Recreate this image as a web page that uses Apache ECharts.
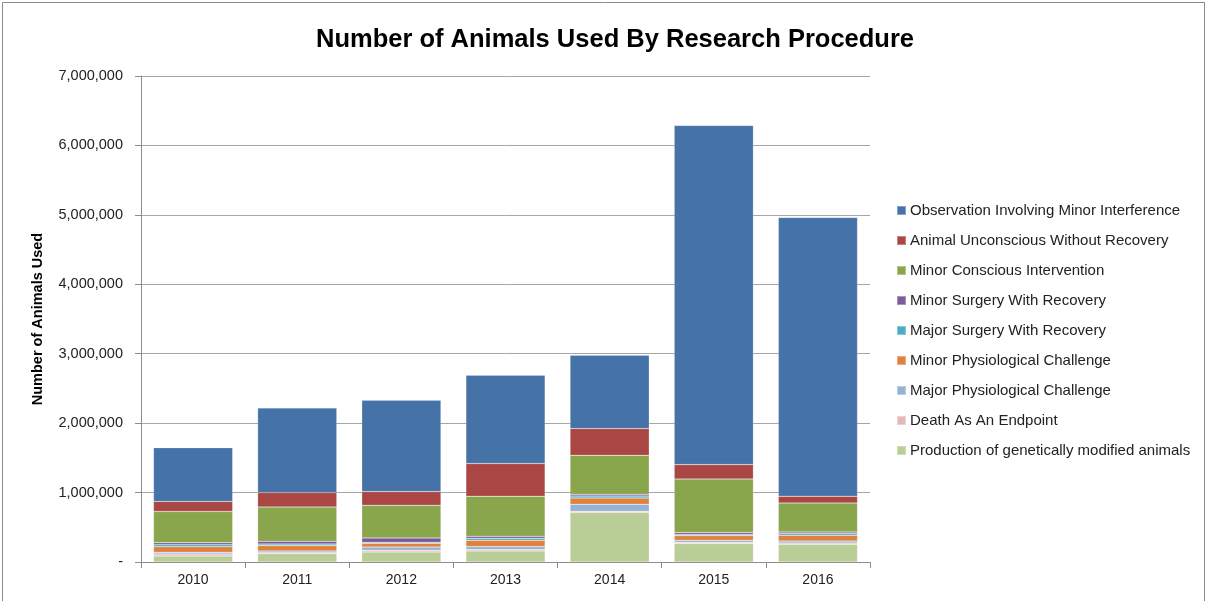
<!DOCTYPE html>
<html>
<head>
<meta charset="utf-8">
<script src="https://cdn.jsdelivr.net/npm/echarts@6/dist/echarts.min.js"></script>
<style>html,body{margin:0;padding:0;background:#fff;}#chart{width:1208px;height:601px;}</style>
</head>
<body>
<div id="chart"></div>
<script>
const years = ['2010','2011','2012','2013','2014','2015','2016'];
const seriesNames = [
  'Production of genetically modified animals',
  'Death As An Endpoint',
  'Major Physiological Challenge',
  'Minor Physiological Challenge',
  'Major Surgery With Recovery',
  'Minor Surgery With Recovery',
  'Minor Conscious Intervention',
  'Animal Unconscious Without Recovery',
  'Observation Involving Minor Interference'
];
const production   = [86000, 121000, 144000, 159000, 711000, 265000, 255000];
const death        = [29000, 14000, 25000, 20000, 19000, 19000, 19000];
const majorPhys    = [25000, 24000, 47000, 43000, 101000, 29000, 29000];
const minorPhys    = [80000, 77000, 53000, 91000, 91000, 67000, 82000];
const majorSurg    = [28000, 24000, 15000, 28000, 29000, 15000, 24000];
const minorSurg    = [29000, 38000, 62000, 29000, 24000, 29000, 23000];
const minorConsc   = [451000, 495000, 471000, 577000, 562000, 772000, 418000];
const unconscious  = [145000, 207000, 197000, 471000, 385000, 207000, 97000];
const observation  = [773000, 1219000, 1316000, 1272000, 1056000, 4885000, 4015000];
const yTicks = ['-', '1,000,000', '2,000,000', '3,000,000', '4,000,000', '5,000,000', '6,000,000', '7,000,000'];

const allData = [production, death, majorPhys, minorPhys, majorSurg, minorSurg, minorConsc, unconscious, observation];
const colors = ['#B9CD96', '#E6B9B8', '#95B3D7', '#E0823D', '#4BACC6', '#7A5C9A', '#8AA64C', '#AA4744', '#4573A8'];

const chart = echarts.init(document.getElementById('chart'));
const font = '"Liberation Sans", Arial, sans-serif';
chart.setOption({
  animation: false,
  textStyle: { fontFamily: font },
  title: {
    text: 'Number of Animals Used By Research Procedure',
    left: 610, top: 22, textAlign: 'center',
    textStyle: { fontFamily: font, fontSize: 25.5, fontWeight: 'bold', color: '#000' }
  },
  graphic: [{
    type: 'rect', silent: true,
    shape: { x: 2.5, y: 2.5, width: 1202, height: 640 },
    style: { fill: 'none', stroke: '#8a8a8a', lineWidth: 1 }
  }],
  legend: {
    orient: 'vertical', left: 891, top: 197,
    itemWidth: 9, itemHeight: 9, itemGap: 13, icon: 'rect',
    data: seriesNames.slice().reverse(),
    textStyle: { fontFamily: font, fontSize: 15, color: '#222', lineHeight: 17, padding: [0, 0, 0, -1] }
  },
  grid: { left: 141, right: 338, top: 76, bottom: 39 },
  xAxis: {
    type: 'category', data: years,
    axisLine: { lineStyle: { color: '#8c8c8c' } },
    axisTick: { show: true, length: 6, lineStyle: { color: '#8c8c8c' } },
    axisLabel: { fontFamily: font, fontSize: 14, color: '#222', margin: 11 }
  },
  yAxis: {
    type: 'value', min: 0, max: 7000000, interval: 1000000,
    name: 'Number of Animals Used', nameLocation: 'middle', nameGap: 96, nameRotate: 90,
    nameTextStyle: { fontFamily: font, fontSize: 14.5, fontWeight: 'bold', color: '#000' },
    axisLine: { show: true, lineStyle: { color: '#8c8c8c' } },
    axisTick: { show: true, length: 6, lineStyle: { color: '#8c8c8c' } },
    splitLine: { lineStyle: { color: '#a6a6a6' } },
    axisLabel: {
      fontFamily: font, fontSize: 14.5, color: '#222', margin: 18,
      formatter: function (v) { return yTicks[Math.round(v / 1000000)]; }
    }
  },
  series: seriesNames.map(function (n, i) {
    return {
      name: n, type: 'bar', stack: 'total', data: allData[i],
      barCategoryGap: '24%',
      itemStyle: { color: colors[i], borderColor: 'rgba(255,255,255,0.35)', borderWidth: 0.5 }
    };
  })
});
</script>
</body>
</html>
